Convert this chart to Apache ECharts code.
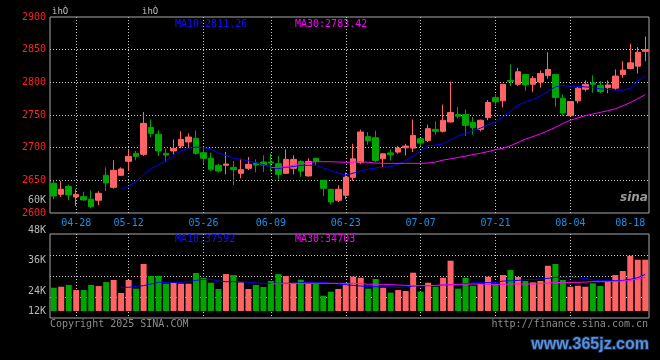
<!DOCTYPE html>
<html><head><meta charset="utf-8">
<script src="https://cdn.jsdelivr.net/npm/echarts@6/dist/echarts.min.js"></script>
<style>html,body{margin:0;padding:0;background:#000}#c{width:660px;height:360px}</style>
</head><body><div id="c"></div>
<script>
const dates = ['04-23','04-24','04-25','04-28','04-29','04-30','05-06','05-07','05-08','05-09',
'05-12','05-13','05-14','05-15','05-16','05-19','05-20','05-21','05-22','05-23',
'05-26','05-27','05-28','05-29','05-30','06-03','06-04','06-05','06-06',
'06-09','06-10','06-11','06-12','06-13','06-16','06-17','06-18','06-19','06-20',
'06-23','06-24','06-25','06-26','06-27','06-30','07-01','07-02','07-03','07-04',
'07-07','07-08','07-09','07-10','07-11','07-14','07-15','07-16','07-17','07-18',
'07-21','07-22','07-23','07-24','07-25','07-28','07-29','07-30','07-31','08-01',
'08-04','08-05','08-06','08-07','08-08','08-11','08-12','08-13','08-14','08-15','08-18'];
const tickLabels = ['04-28','05-12','05-26','06-09','06-23','07-07','07-21','08-04','08-18'];

const opens = [2645.5,2628.6,2640.4,2624.6,2625,2621,2619.5,2657.7,2639.3,2657.7,
2679.1,2691.3,2689.8,2731.1,2720.4,2691.3,2694.9,2702.5,2708.7,2714.3,
2692.3,2683.7,2673,2673,2669.9,2660.7,2668.4,2676.5,2678,
2678,2675.5,2660.7,2668.4,2679,2656.7,2683.7,2650,2636.3,2619.4,
2627.1,2654.6,2677.7,2716.8,2715.2,2682.9,2692,2693.2,2699.8,2699.3,
2713.7,2711.1,2728.1,2725,2739.4,2750.7,2750.7,2738.4,2728.1,2746,
2776.9,2771.7,2803,2797,2812.1,2797,2800.5,2810.6,2812.1,2775.8,
2749,2771.7,2789.4,2799,2795.5,2791.9,2791,2812.1,2821.2,2824.8,2847.5];
const closes = [2626,2636.3,2627.6,2628.6,2620,2609.8,2630.2,2646,2665.3,2667.4,
2686.7,2686.7,2737.2,2721.9,2694.9,2688.8,2699,2712.7,2716.3,2691.3,
2683.7,2666.8,2664.3,2675,2666.3,2666.3,2674.5,2673.5,2673.5,
2676.5,2659.2,2682.1,2682.1,2664.3,2679,2679,2637.8,2616.9,2636.3,
2655,2682.9,2724,2710.6,2680.3,2690.6,2689,2699.3,2702.4,2718.8,
2707,2729.1,2725,2742,2753.8,2748.1,2734.2,2730.6,2742,2769.2,
2770.2,2797,2801.5,2816.2,2796,2806,2813.6,2819.7,2776.8,2753,
2770.7,2791,2797,2797,2785.9,2796,2809.6,2818.7,2829.8,2846,2850];
const lows = [2621,2624.6,2620,2610.8,2618.5,2607.2,2611.8,2633.7,2637.3,2656.7,
2664.3,2680.6,2687.3,2716.3,2687.3,2678.1,2689.8,2699,2700,2689,
2674.5,2664.3,2661.8,2659.2,2642.9,2653.1,2665.8,2662.3,2662.8,
2663.3,2651.5,2660,2659.2,2655.1,2656,2673,2626,2613.3,2616.9,
2621,2649.5,2675.2,2704.5,2677.7,2670,2680.3,2690.6,2688,2693.2,
2702.4,2708.6,2719.9,2723,2738.4,2744.5,2717.8,2719.9,2725,2742,
2763.5,2761.6,2794.4,2794.4,2786.9,2785.4,2791.9,2805.6,2762.6,2749,
2749,2767.7,2785.9,2784.4,2783.3,2783.3,2788.4,2807.1,2819.7,2813.6,2832.3];
const highs = [2650,2649,2643.4,2636.3,2632.7,2634.8,2633.2,2669.9,2680.6,2669.9,
2697.4,2694.9,2754.5,2743.3,2726.5,2698.5,2712.7,2725,2721.9,2726.5,
2701,2692.3,2675.5,2693.4,2679.6,2683.2,2685.7,2682.1,2688.3,
2690.8,2687.2,2697.4,2688.3,2680.6,2683.7,2683.7,2650,2636.3,2642.4,
2661.8,2706,2727.6,2724,2726,2690.6,2697.3,2702.4,2706,2743,
2714.7,2735.3,2740.4,2766,2801,2762.5,2758.4,2747.1,2743,2772.8,
2781.5,2797,2827.3,2822.2,2813.1,2809.6,2818.2,2846,2812.1,2781.8,
2770.7,2793,2803,2810.6,2802,2803,2819.7,2832.3,2859.1,2854,2870.2];

// MA10 from index 9, MA30 from index 29
const ma10 = [2636,2641,2648,2659,2668,2674,2680,2688,2695,2699,2701,
2700,2698,2692,2688,2684,2682,2680,2677,2674,
2670,2668,2670,2671,2673,2673,2673,2669,2665,2661,
2658,2661,2664,2667,2669,2670,2671,2675,2680,2687,
2695,2703,2704,2706,2712,2718,2722,2726,2730,2735,
2739,2747,2756,2765,2770,2774,2779,2786,2793,2795,
2794,2794,2793,2792,2790,2789,2788,2788,2791,2802,2810];
const ma30 = [2669.5,2670,2671,2673,2675,2677,2678.5,2678.5,2678.5,2678,
2677.5,2678,2678.5,2677.5,2676.5,2676,2676,2676,2676,2676,
2676,2676.5,2678,2681,2683,2685,2687,2689.5,2691.5,2694,
2697,2699,2703,2708,2713,2717,2721,2726,2731,2737,
2742,2745.5,2749,2751.5,2754,2756.5,2759.5,2764,2769,2775,2781];

const volumes = [23900,24900,26700,21500,21500,26700,25600,29700,31800,18500,
31800,22900,48200,35900,35900,28000,29000,28000,28000,39000,
34100,29000,22600,37900,36900,29400,22600,26700,24600,
30800,37900,35900,29000,32100,28000,28000,15700,19800,22600,
28400,35200,34100,22900,32800,23900,18800,21500,20500,39300,
19800,29000,24900,34100,51600,22900,34100,25900,27700,35200,
27700,36900,42000,34900,30800,29400,30800,46400,48200,31800,
24900,25900,24900,28400,25600,30000,36900,41000,56700,52600,52600];
const vma10 = [24300,24300,25300,26000,27700,29400,29400,29400,29400,30100,
31400,32500,32500,30700,30100,30100,30100,29400,28700,28400,
28400,28400,28400,28400,29100,29400,29400,29400,28400,27700,
27000,26300,25600,24900,24900,24600,24600,24300,24600,25600,
26000,26000,26300,26700,27000,27000,28000,28700,29100,29100,
29100,30700,31100,31400,32100,32500,32500,33500,34500,34500,
34500,34200,33500,31800,31100,31100,31100,31400,32500,34200,37592];
const vma30 = [27900,28000,28100,28200,28300,28400,28400,28400,28400,28400,
28400,28400,28100,27400,27400,27400,27000,26700,26300,26000,
26000,26000,26300,26700,27000,27400,27400,27700,27700,27400,
27400,27400,27700,27700,27700,27700,28100,28700,29100,29400,
29400,29400,29700,30100,30100,30100,30400,30700,31400,32800,34703];

const legendMain = ['MA10:2811.26','MA30:2783.42'];
const legendVol = ['MA10:37592','MA30:34703'];
const volTickLabels = ['48K','36K','24K','12K'];

const UP = '#ff6363', DOWN = '#00a600';
const FONT = '"DejaVu Sans Mono", monospace';
const pad = (n, arr) => Array(n).fill('-').concat(arr);
const dotted = {show:true, lineStyle:{color:'#c8c8c8', type:[1,2], width:1}};
const isTick = (i, v) => tickLabels.includes(v);
const isGrid = (i, v) => tickLabels.includes(v) && v !== tickLabels[tickLabels.length-1];

const candle = dates.map((d,i)=>[opens[i],closes[i],lows[i],highs[i]]);
const volData = volumes.map((v,i)=>({value:v, itemStyle:{color: closes[i]>=opens[i]?UP:DOWN}}));

const chart = echarts.init(document.getElementById('c'), null, {renderer:'canvas'});
const txt = (x,y,text,fill,extra) => Object.assign({type:'text', x:x, y:y, silent:true,
  style:Object.assign({text:text, fill:fill, font:'10px '+FONT, verticalAlign:'middle', align:'left'}, extra||{})});

chart.setOption({
  backgroundColor:'#000',
  animation:false,
  grid:[
    {left:50,right:11,top:17,bottom:147,show:true,borderColor:'#a8a8a8',borderWidth:1,backgroundColor:'transparent'},
    {left:50,right:11,top:234,bottom:42,show:true,borderColor:'#a8a8a8',borderWidth:1,backgroundColor:'transparent'},
    {left:50,right:11,top:234,bottom:49}
  ],
  xAxis:[
    {type:'category',gridIndex:0,data:dates,boundaryGap:true,
     axisLine:{show:false},axisTick:{show:false},
     axisLabel:{interval:isTick,color:'#1a90e8',fontFamily:FONT,fontSize:10,margin:5,alignMaxLabel:'right'},
     splitLine:Object.assign({interval:isGrid,alignWithLabel:true},dotted)},
    {type:'category',gridIndex:1,data:dates,boundaryGap:true,
     axisLine:{show:false},axisTick:{show:false},axisLabel:{show:false},
     splitLine:Object.assign({interval:isGrid,alignWithLabel:true},dotted)},
    {type:'category',gridIndex:2,data:dates,boundaryGap:true,show:false}
  ],
  yAxis:[
    {type:'value',gridIndex:0,min:2600,max:2900,interval:50,
     axisLine:{show:false},axisTick:{show:false},
     axisLabel:{color:'#ff2020',fontFamily:FONT,fontSize:10,margin:4,formatter:v=>String(v)},
     splitLine:Object.assign({showMinLine:false,showMaxLine:false},dotted)},
    {type:'value',gridIndex:1,min:0,max:84,interval:21,inverse:true,
     axisLine:{show:false},axisTick:{show:false},axisLabel:{show:false},
     splitLine:Object.assign({showMinLine:false,showMaxLine:false},dotted)},
    {type:'value',gridIndex:2,min:0,max:79000,show:false,splitLine:{show:false}}
  ],
  series:[
    {type:'candlestick',xAxisIndex:0,yAxisIndex:0,data:candle,barWidth:6,
     itemStyle:{color:UP,color0:DOWN,borderColor:UP,borderColor0:DOWN,borderWidth:1}},
    {type:'line',xAxisIndex:0,yAxisIndex:0,data:pad(9,ma10),symbol:'none',
     lineStyle:{color:'#0000ff',width:1}},
    {type:'line',xAxisIndex:0,yAxisIndex:0,data:pad(29,ma30),symbol:'none',
     lineStyle:{color:'#ff00ff',width:1}},
    {type:'bar',xAxisIndex:2,yAxisIndex:2,data:volData,barWidth:6},
    {type:'line',xAxisIndex:2,yAxisIndex:2,data:pad(9,vma10),symbol:'none',
     lineStyle:{color:'#0000ff',width:1}},
    {type:'line',xAxisIndex:2,yAxisIndex:2,data:pad(29,vma30),symbol:'none',
     lineStyle:{color:'#ff00ff',width:1}}
  ],
  graphic:[
    txt(52,12,'ìhÒ','#c0c0c0',{font:'9px '+FONT}),
    txt(142,12,'ìhÒ','#c0c0c0',{font:'9px '+FONT}),
    txt(175,24,legendMain[0],'#1010ff'),
    txt(295,24,legendMain[1],'#ff00ff'),
    txt(175,239,legendVol[0],'#1010ff'),
    txt(295,239,legendVol[1],'#ff00ff'),
    txt(46,200,'60K','#b8b8b8',{align:'right'}),
    txt(46,230,volTickLabels[0],'#b8b8b8',{align:'right'}),
    txt(46,260,volTickLabels[1],'#b8b8b8',{align:'right'}),
    txt(46,291,volTickLabels[2],'#b8b8b8',{align:'right'}),
    txt(46,311,volTickLabels[3],'#b8b8b8',{align:'right'}),
    txt(50,324,'Copyright 2025 SINA.COM','#8c8c8c'),
    txt(648,324,'http://finance.sina.com.cn','#8c8c8c',{align:'right'}),
    txt(634,198,'sina','#9a9a9a',{font:'italic bold 12px "DejaVu Sans"',align:'center'}),
    txt(649,345,'www.365jz.com','#5b8fd6',{font:'bold 16px "Liberation Sans", sans-serif',align:'right',
      stroke:'#14284a',lineWidth:2})
  ]
});
</script></body></html>
